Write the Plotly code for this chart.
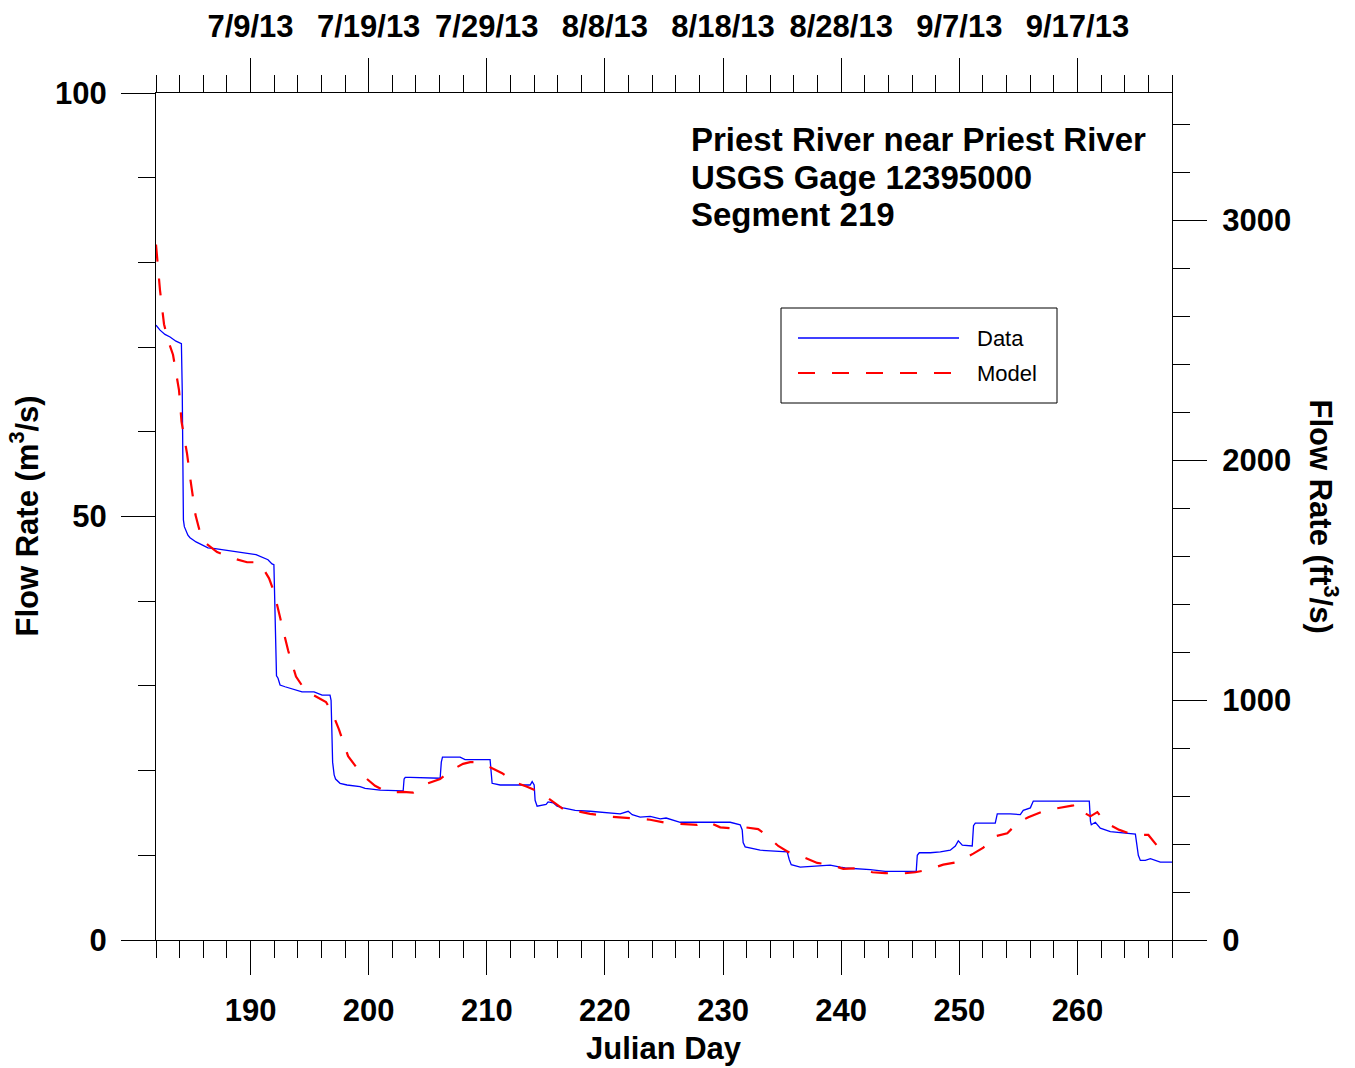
import plotly.graph_objects as go

# ---------------- data ----------------
data_day = [182.00, 182.34, 182.76, 183.19, 183.69, 184.12, 184.15, 184.22, 184.27, 184.32,
            184.40, 184.55, 184.70, 184.88, 185.39, 185.98, 186.40, 187.00, 188.10, 189.11,
            190.47, 191.48, 191.82, 191.98, 192.05, 192.12, 192.20, 192.33, 192.50, 192.92,
            193.77, 194.36, 195.38, 196.06, 196.73, 196.82, 196.88, 196.95, 197.08, 197.20,
            197.58, 198.17, 199.27, 199.70, 200.97, 202.66, 202.92, 203.00, 203.10, 203.51,
            206.05, 206.15, 206.25, 207.74, 208.16, 210.28, 210.37, 210.45, 211.13, 213.67,
            213.84, 214.01, 214.09, 214.26, 215.02, 215.19, 215.62, 215.95, 216.46, 217.48,
            218.75, 219.60, 221.29, 221.97, 222.31, 222.98, 223.83, 224.68, 225.18, 226.37,
            228.06, 230.18, 230.60, 231.45, 231.62, 231.70, 231.87, 233.14, 235.43, 235.60,
            235.77, 236.53, 237.80, 239.07, 239.92, 240.34, 242.46, 243.73, 246.35, 246.44,
            246.61, 247.54, 248.39, 249.23, 249.66, 249.91, 250.25, 250.93, 251.09, 251.20,
            251.35, 253.04, 253.21, 254.31, 255.16, 255.41, 256.01, 256.26, 258.55, 260.66,
            261.00, 261.10, 261.17, 261.51, 261.93, 262.78, 264.47, 264.90, 265.15, 265.32,
            265.74, 266.17, 267.01, 268.03]
data_flow = [72.6, 72.0, 71.5, 71.2, 70.7, 70.5, 70.4, 65.0, 57.9, 49.6,
             48.8, 48.2, 47.8, 47.5, 47.0, 46.6, 46.3, 46.2, 46.0, 45.8,
             45.5, 44.9, 44.4, 44.3, 40.0, 33.0, 31.2, 30.9, 30.1, 29.9,
             29.5, 29.3, 29.3, 28.9, 28.9, 28.3, 25.0, 21.0, 19.5, 19.0,
             18.5, 18.3, 18.1, 17.9, 17.7, 17.6, 17.6, 19.0, 19.2, 19.2,
             19.1, 21.0, 21.6, 21.6, 21.3, 21.3, 19.0, 18.5, 18.3, 18.3,
             18.7, 18.3, 16.5, 15.8, 16.0, 16.3, 16.2, 15.8, 15.6, 15.3,
             15.2, 15.1, 14.9, 15.2, 14.8, 14.5, 14.6, 14.3, 14.4, 13.9,
             13.9, 13.9, 13.9, 13.6, 13.0, 11.5, 11.0, 10.6, 10.4, 9.5,
             8.9, 8.6, 8.7, 8.85, 8.6, 8.5, 8.3, 8.1, 8.1, 10.0,
             10.3, 10.3, 10.4, 10.6, 11.1, 11.7, 11.2, 11.1, 11.1, 13.5,
             13.8, 13.8, 14.9, 14.9, 14.8, 15.3, 15.6, 16.4, 16.4, 16.4,
             16.4, 14.0, 13.6, 13.9, 13.2, 12.8, 12.5, 12.5, 10.0, 9.4,
             9.4, 9.6, 9.2, 9.2]

model_day = [182.00, 182.17, 182.34, 182.68, 183.02, 183.44, 183.95, 184.16, 184.63, 184.92,
             185.34, 185.90, 186.57, 187.17, 188.44, 189.71, 190.64, 191.14, 191.57, 191.99,
             192.50, 193.18, 193.85, 194.62, 195.21, 195.72, 196.39, 196.90, 197.50, 198.26,
             199.44, 200.54, 201.64, 202.91, 203.76, 205.03, 206.05, 207.06, 207.99, 208.59,
             209.18, 210.28, 211.30, 212.23, 213.41, 214.52, 215.78, 216.63, 217.65, 218.75,
             220.19, 221.29, 222.56, 223.83, 225.27, 226.54, 227.81, 228.66, 229.76, 230.60,
             231.87, 232.97, 233.74, 234.67, 235.51, 236.78, 237.97, 239.07, 240.17, 241.61,
             242.63, 243.73, 244.83, 246.27, 247.37, 248.64, 249.82, 251.18, 252.03, 252.87,
             254.06, 254.91, 255.84, 257.28, 258.55, 259.65, 259.90, 260.24, 261.09, 261.68,
             262.44, 263.54, 264.73, 266.00, 266.76, 267.01]
model_flow = [82.1, 79.1, 76.7, 72.7, 70.8, 69.1, 64.9, 61.2, 57.4, 54.3,
              50.2, 47.2, 46.4, 45.8, 45.1, 44.6, 44.6, 43.7, 42.7, 41.1,
              38.1, 34.2, 31.1, 29.5, 29.0, 28.6, 28.1, 26.9, 24.8, 21.7,
              19.5, 18.2, 17.4, 17.5, 17.4, 18.5, 19.0, 20.1, 20.8, 21.0,
              21.0, 20.4, 19.7, 18.7, 18.1, 17.4, 16.2, 15.3, 15.2, 14.9,
              14.6, 14.5, 14.4, 14.2, 13.8, 13.7, 13.6, 14.0, 13.3, 13.2,
              13.3, 13.1, 12.3, 11.1, 10.4, 9.8, 9.1, 8.9, 8.4, 8.5,
              8.0, 7.9, 7.8, 8.0, 8.3, 8.9, 9.2, 10.2, 10.9, 12.2,
              12.6, 13.8, 14.5, 15.3, 15.6, 15.9, 16.1, 15.3, 14.6, 15.1,
              13.8, 13.0, 12.4, 12.4, 11.1, 10.7]

x_ticks = [190, 200, 210, 220, 230, 240, 250, 260]
date_labels = ["7/9/13", "7/19/13", "7/29/13", "8/8/13", "8/18/13", "8/28/13", "9/7/13", "9/17/13"]
y_ticks = [0, 50, 100]
y2_ticks = [0, 1000, 2000, 3000]
M3_TO_FT3 = 35.3147

title_lines = ["Priest River near Priest River", "USGS Gage 12395000", "Segment 219"]

# ---------------- figure ----------------
FONT = "Liberation Sans"
tick_font = dict(family=FONT, size=31, color="black", weight="bold")

fig = go.Figure()
fig.add_trace(go.Scatter(x=data_day, y=data_flow, mode="lines", name="Data",
                         line=dict(color="#0000FF", width=1.3), showlegend=False))
fig.add_trace(go.Scatter(x=model_day, y=model_flow, mode="lines", name="Model",
                         line=dict(color="#FF0000", width=2.2, dash="17px,17px"), showlegend=False))

common_axis = dict(showline=True, linecolor="black", linewidth=1, showgrid=False, zeroline=False,
                   ticks="outside", tickcolor="black", tickwidth=1, ticklen=34, tickfont=tick_font,
                   automargin=False)

def minor(t0, dt):
    return dict(tickmode="linear", tick0=t0, dtick=dt, ticklen=17, ticks="outside",
                tickcolor="black", tickwidth=1, showgrid=False)

fig.update_layout(
    width=1355, height=1068,
    margin=dict(l=156, r=183, t=93, b=128, pad=0),
    paper_bgcolor="white", plot_bgcolor="white",
    showlegend=False,
    xaxis=dict(range=[182, 268], tickmode="array", tickvals=x_ticks,
               minor=minor(182, 2), ticklabelstandoff=9, **common_axis),
    xaxis2=dict(range=[182, 268], overlaying="x", side="top", anchor="y",
                tickmode="array", tickvals=x_ticks, ticktext=date_labels,
                minor=minor(182, 2), ticklabelstandoff=9, **common_axis),
    yaxis=dict(range=[0, 100], tickmode="array", tickvals=y_ticks,
               minor=minor(0, 10), ticklabelstandoff=8, **common_axis),
    yaxis2=dict(range=[0, 100 * M3_TO_FT3], overlaying="y", side="right", anchor="x",
                tickmode="array", tickvals=y2_ticks,
                minor=minor(0, 200), ticklabelstandoff=9, **common_axis),
)

# invisible trace to activate the secondary axes
fig.add_trace(go.Scatter(x=[182, 268], y=[None, None], xaxis="x2", yaxis="y2",
                         mode="lines", hoverinfo="skip", showlegend=False))

title_font = dict(family=FONT, size=31, color="black", weight="bold")
ann = []
ann.append(dict(text="Flow Rate (m<sup>3</sup>/s)", xref="paper", yref="paper",
                x=(24 - 156) / 1016, y=0.5, textangle=-90, showarrow=False,
                font=title_font, xanchor="center", yanchor="middle"))
ann.append(dict(text="Flow Rate (ft<sup>3</sup>/s)", xref="paper", yref="paper",
                x=(1324 - 156) / 1016, y=0.5, textangle=90, showarrow=False,
                font=title_font, xanchor="center", yanchor="middle"))
ann.append(dict(text="Julian Day", xref="paper", yref="paper",
                x=(664 - 156) / 1016, y=(940 - 1048) / 847, showarrow=False,
                font=title_font, xanchor="center", yanchor="middle"))
for i, line in enumerate(title_lines):
    ann.append(dict(text=line, xref="paper", yref="paper",
                    x=(689 - 156) / 1016, y=(940 - (140 + 37 * i)) / 847, showarrow=False,
                    font=dict(family=FONT, size=33, color="black", weight="bold"),
                    xanchor="left", yanchor="middle"))

# legend (drawn manually to match long sample lines)
def px_x(p):
    return (p - 156) / 1016

def px_y(p):
    return (940 - p) / 847

shapes = [
    dict(type="rect", xref="paper", yref="paper", x0=px_x(781), x1=px_x(1057),
         y0=px_y(403), y1=px_y(308), line=dict(color="black", width=1), fillcolor="white", layer="above"),
    dict(type="line", xref="paper", yref="paper", x0=px_x(798), x1=px_x(959),
         y0=px_y(338), y1=px_y(338), line=dict(color="#0000FF", width=1.3), layer="above"),
    dict(type="line", xref="paper", yref="paper", x0=px_x(798), x1=px_x(959),
         y0=px_y(373), y1=px_y(373), line=dict(color="#FF0000", width=2.2, dash="17px,17px"), layer="above"),
]
legend_font = dict(family=FONT, size=22, color="black")
ann.append(dict(text="Data", xref="paper", yref="paper", x=px_x(975), y=px_y(338),
                showarrow=False, font=legend_font, xanchor="left", yanchor="middle"))
ann.append(dict(text="Model", xref="paper", yref="paper", x=px_x(975), y=px_y(373),
                showarrow=False, font=legend_font, xanchor="left", yanchor="middle"))

fig.update_layout(annotations=ann, shapes=shapes)
fig.write_html("out.html")
